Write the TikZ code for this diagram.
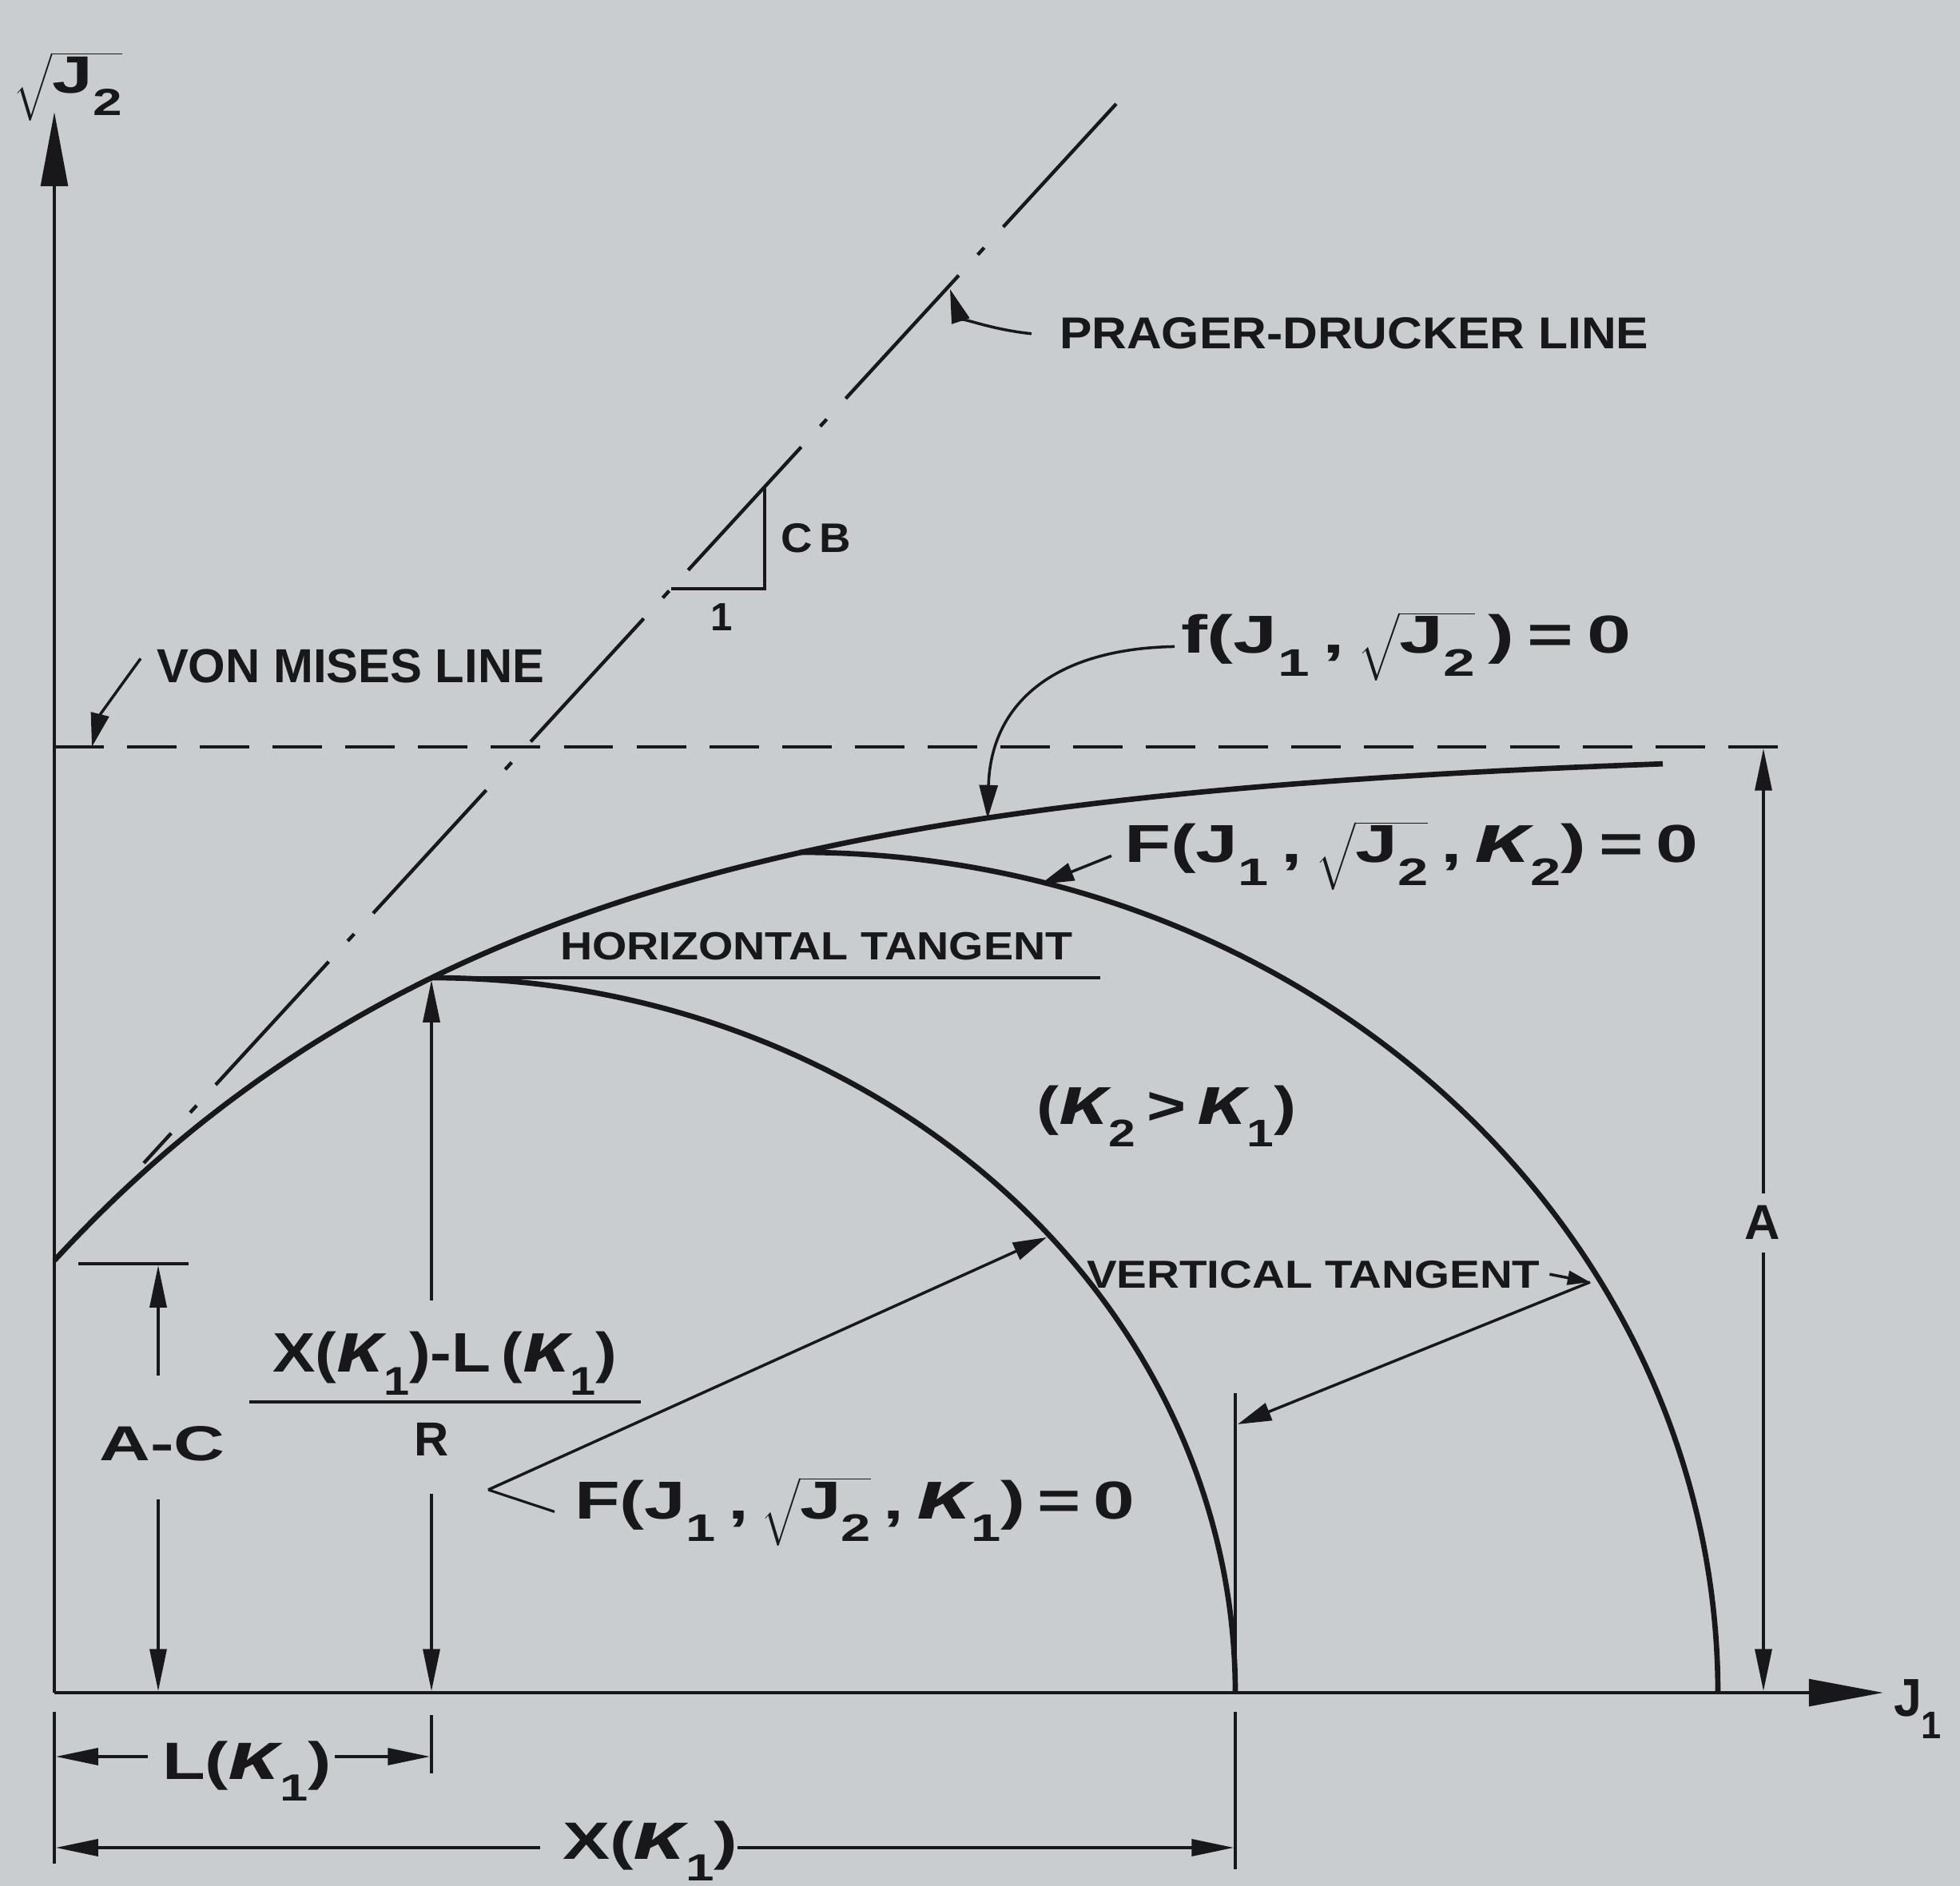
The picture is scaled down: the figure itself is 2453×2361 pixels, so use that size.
\documentclass[tikz,border=0pt]{standalone}
\usepackage{fontspec}
\usepackage{graphicx}
\setmainfont{Liberation Sans}
\usetikzlibrary{arrows.meta}
\definecolor{paper}{RGB}{202,205,207}
\definecolor{ink}{RGB}{24,24,26}
\newcommand\fs[1]{\fontsize{#1}{#1}\selectfont}
\newcommand\lsub[1]{\raisebox{-0.42em}{\scalebox{0.72}{#1}}}
\newcommand\kp{\scalebox{1.3}{\itshape κ}}
\newcommand\sqJ{$\sqrt{\hbox{J\lsub{2}}\vphantom{\rule[-0.5em]{0pt}{1.15em}}}$}
\newcommand\fitw[2]{\resizebox{#1}{\height}{#2}}
\begin{document}
\begin{tikzpicture}[x=0.01cm,y=-0.01cm,
  every node/.style={inner sep=0pt,outer sep=0pt,text=ink},
  axisline/.style={draw=ink,line width=1.3pt},
  capline/.style={draw=ink,line width=1.9pt,line join=round},
  thinline/.style={draw=ink,line width=0.9pt},
  dimarrow/.style={thinline,-{Triangle[length=15pt,width=6pt]}},
  leader/.style={draw=ink,line width=1pt,-{Triangle[length=12pt,width=6.5pt]}},
  bigtip/.style={-{Triangle[length=26.5pt,width=9.5pt]}},
  pdline/.style={draw=ink,line width=1.25pt,dash pattern=on 59.5pt off 10pt on 3.4pt off 10pt},
  vmline/.style={draw=ink,line width=1.25pt,dash pattern=on 17.6pt off 8.3pt},
  capslbl/.style={font={\fs{#1}\bfseries}},
  eqlbl/.style={font={\fs{#1}\bfseries}}
]
\fill[paper] (0,0) rectangle (2453,2361);
\useasboundingbox (0,0) rectangle (2453,2361);

% ---------- axes ----------
\coordinate (O) at (68,2119);
\coordinate (Ytip) at (68,140);
\coordinate (Xtip) at (2357,2119);
\draw[axisline,bigtip] (O) -- (Ytip);
\draw[axisline,bigtip] (O) -- (Xtip);
\node[anchor=base west,eqlbl=18.7] (ylab) at (17,117) {\fitw{1.36cm}{\sqJ}};
\node[anchor=base west,eqlbl=19] (xlab) at (2370,2148) {\fitw{0.6cm}{J\lsub{1}}};

% ---------- von Mises line ----------
\coordinate (vm0) at (68,935);
\coordinate (vm1) at (2253,935);
\draw[vmline] (vm0) -- (vm1);
\node[anchor=base west,capslbl=17] (vmlab) at (196,855) {\fitw{4.85cm}{VON MISES LINE}};
\coordinate (vmtip) at (115,935);
\draw[leader] (vmlab.west) ++(-20,-10) .. controls (150,860) and (125,895) .. (vmtip);

% ---------- Prager-Drucker line ----------
\coordinate (pdtop) at (1397,130);
\coordinate (pdbot) at (180,1456);
\draw[pdline] (pdtop) -- (pdbot);
\node[anchor=base west,capslbl=15.9] (pdlab) at (1326,437) {\fitw{7.37cm}{PRAGER-DRUCKER LINE}};
\coordinate (pdtip) at (1189,362);
\draw[leader] ([xshift=-0.35cm]pdlab.west) .. controls (1235,412) and (1200,395) .. (pdtip);

% slope triangle
\coordinate (tr0) at (840,737);
\coordinate (tr1) at (957,737);
\coordinate (tr2) at (957,609);
\draw[draw=ink,line width=1.2pt] (tr0) -- (tr1) -- (tr2);
\node[anchor=base west,capslbl=14.7] (cb) at (977,692) {\fitw{0.88cm}{C\,B}};
\node[capslbl=14] (one) at (903,773) {1};

% ---------- failure envelope f ----------
\draw[capline] plot[domain=0:2013,samples=160,smooth] ({68+\x},{935+643*exp(-0.001695*\x)});
\node[anchor=base west,eqlbl=19] (flab) at (1478,818) {\fitw{5.63cm}{f(J\lsub{1}\,,\,\sqJ\,)\,=\,0}};
\coordinate (ftip) at (1236,1025);
\draw[leader] ([xshift=-0.08cm]flab.west) .. controls (1320,812) and (1240,880) .. (ftip);

% ---------- caps ----------
\draw[capline] plot[domain=0:90,samples=91,smooth] ({540+1006*sin(\x)},{2119-895*cos(\x)});
\draw[capline] plot[domain=0:90,samples=91,smooth] ({1001+1149*sin(\x)},{2119-1052*cos(\x)});

\node[anchor=base west,eqlbl=19] (Fk2) at (1407,1080) {\fitw{7.18cm}{F(J\lsub{1}\,,\,\sqJ\,,\,\kp\lsub{2})\,=\,0}};
\coordinate (k2tip) at (1302,1107);
\draw[leader] ([xshift=-0.16cm]Fk2.west) -- (k2tip);

% horizontal tangent
\coordinate (ht0) at (540,1224);
\coordinate (ht1) at (1377,1224);
\draw[draw=ink,line width=1.1pt] (ht0) -- (ht1);
\node[anchor=base west,capslbl=14] (htan) at (701,1202) {\fitw{6.41cm}{HORIZONTAL TANGENT}};

\node[eqlbl=19] (kk) at (1460,1397) {\fitw{3.24cm}{(\kp\lsub{2}\,>\,\kp\lsub{1})}};

% vertical tangent
\coordinate (vt0) at (1546,1744);
\coordinate (vt1) at (1546,2119);
\draw[draw=ink,line width=1.1pt] (vt0) -- (vt1);
\node[anchor=base west,capslbl=13.9] (vtan) at (1360,1612) {\fitw{5.67cm}{VERTICAL TANGENT}};
\coordinate (vtj) at (1990,1605);
\coordinate (vttip) at (1549,1783);
\draw[draw=ink,line width=1pt,-{Triangle[length=8pt,width=5pt]}] ([xshift=0.12cm]vtan.east) -- (vtj);
\draw[leader] (vtj) -- (vttip);

% F(k1) label
\node[anchor=base west,eqlbl=19] (Fk1) at (719,1901) {\fitw{7.01cm}{F(J\lsub{1}\,,\,\sqJ\,,\,\kp\lsub{1})\,=\,0}};
\coordinate (k1v) at (611,1865);
\coordinate (k1tip) at (1310,1549);
\draw[thinline] ([xshift=-0.25cm]Fk1.west) -- (k1v);
\draw[leader] (k1v) -- (k1tip);

% ---------- R dimension and fraction ----------
\node[anchor=base west,eqlbl=19.8] (num) at (341,1717) {\fitw{4.31cm}{X(\kp\lsub{1})-L\,(\kp\lsub{1})}};
\coordinate (bar0) at (312,1755);
\coordinate (bar1) at (802,1755);
\draw[draw=ink,line width=1.2pt] (bar0) -- (bar1);
\node[eqlbl=17] (R) at (540,1802) {R};
\coordinate (Rup0) at (540,1628);
\coordinate (Rup1) at (540,1227);
\coordinate (Rdn0) at (540,1870);
\coordinate (Rdn1) at (540,2117);
\draw[dimarrow] (Rup0) -- (Rup1);
\draw[dimarrow] (Rdn0) -- (Rdn1);

% ---------- A-C dimension ----------
\coordinate (ac0) at (98,1582);
\coordinate (ac1) at (236,1582);
\draw[thinline] (ac0) -- (ac1);
\node[eqlbl=17.5] (AC) at (203,1807) {\fitw{1.57cm}{A-C}};
\coordinate (acu0) at (198,1722);
\coordinate (acu1) at (198,1584);
\coordinate (acd0) at (198,1877);
\coordinate (acd1) at (198,2117);
\draw[dimarrow] (acu0) -- (acu1);
\draw[dimarrow] (acd0) -- (acd1);

% ---------- A dimension ----------
\node[eqlbl=17.5] (Alab) at (2206,1530) {A};
\coordinate (au0) at (2207,1494);
\coordinate (au1) at (2207,937);
\coordinate (ad0) at (2207,1568);
\coordinate (ad1) at (2207,2117);
\draw[dimarrow] (au0) -- (au1);
\draw[dimarrow] (ad0) -- (ad1);

% ---------- horizontal dimensions ----------
\coordinate (e0a) at (68,2143);
\coordinate (e0b) at (68,2333);
\coordinate (e1a) at (540,2147);
\coordinate (e1b) at (540,2220);
\coordinate (e2a) at (1546,2143);
\coordinate (e2b) at (1546,2340);
\draw[thinline] (e0a) -- (e0b);
\draw[thinline] (e1a) -- (e1b);
\draw[thinline] (e2a) -- (e2b);

\node[anchor=base west,eqlbl=18.7] (Llab) at (203,2227) {\fitw{2.12cm}{L(\kp\lsub{1})}};
\coordinate (Lw) at (185,2199);
\coordinate (Lwt) at (70,2199);
\coordinate (Le) at (419,2199);
\coordinate (Let) at (538,2199);
\draw[dimarrow] (Lw) -- (Lwt);
\draw[dimarrow] (Le) -- (Let);

\node[anchor=base west,eqlbl=18.7] (Xlab) at (704,2327) {\fitw{2.19cm}{X(\kp\lsub{1})}};
\coordinate (Xw) at (676,2313);
\coordinate (Xwt) at (70,2313);
\coordinate (Xe) at (923,2313);
\coordinate (Xet) at (1544,2313);
\draw[dimarrow] (Xw) -- (Xwt);
\draw[dimarrow] (Xe) -- (Xet);
\end{tikzpicture}
\end{document}
